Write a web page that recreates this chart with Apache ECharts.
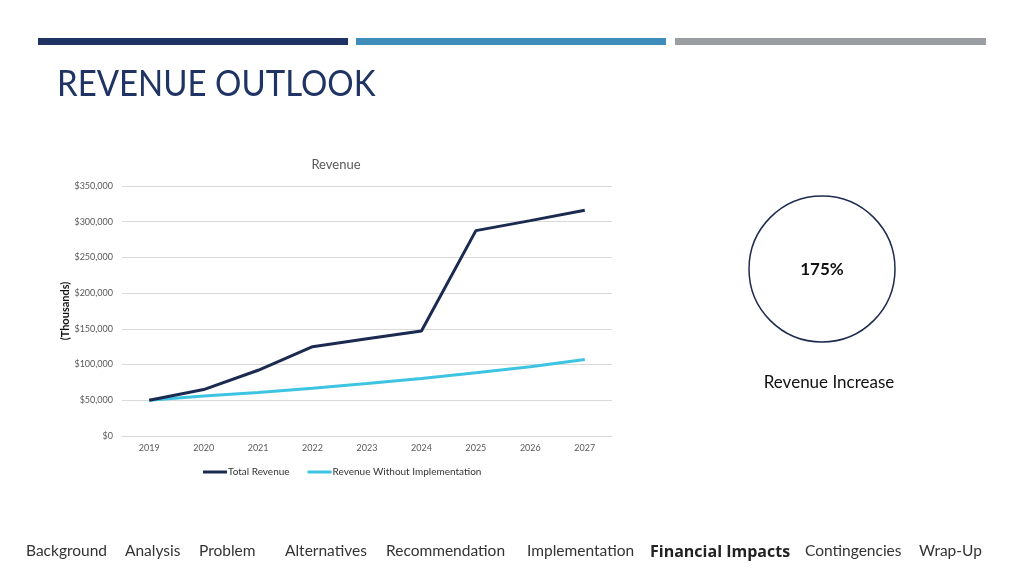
<!DOCTYPE html>
<html><head><meta charset="utf-8">
<script src="https://cdn.jsdelivr.net/npm/echarts@6/dist/echarts.min.js"></script>
<style>html,body{margin:0;padding:0;background:#fff}#c{width:1024px;height:576px}</style>
</head><body><div id="c"></div>
<script>
const years = ['2019','2020','2021','2022','2023','2024','2025','2026','2027'];
const totalRevenue = [50000, 65000, 92000, 125000, 136000, 147000, 287500, 301500, 316000];
const withoutImpl = [50000, 56000, 61000, 67000, 73500, 80500, 88500, 97000, 107000];
const navItems = ['Background','Analysis','Problem','Alternatives','Recommendation','Implementation','Financial Impacts','Contingencies','Wrap-Up'];
const navX = [26,125,199,285,386,527,650,805,919];
const activeNav = 'Financial Impacts';

const font = 'Lato, "Open Sans", sans-serif';
const chart = echarts.init(document.getElementById('c'));
const graphics = [
  {type:'rect', shape:{x:38,y:38,width:310,height:7}, style:{fill:'#1f3464'}},
  {type:'rect', shape:{x:356,y:38,width:310,height:7}, style:{fill:'#3e8cb9'}},
  {type:'rect', shape:{x:675,y:38,width:311,height:7}, style:{fill:'#9a9ea2'}},
  {type:'text', x:57, y:84, scaleX:0.97, scaleY:1.1, style:{text:'REVENUE OUTLOOK', fill:'#1f3464', font:'34px '+font, textVerticalAlign:'middle'}},
  {type:'text', x:336, y:165, style:{text:'Revenue', fill:'#595959', font:'13px '+font, textAlign:'center', textVerticalAlign:'middle'}},
  {type:'circle', shape:{cx:822, cy:269, r:73}, style:{fill:'none', stroke:'#1c2b4f', lineWidth:1.5}},
  {type:'text', x:822, y:270, style:{text:'175%', fill:'#111', font:'bold 17px '+font, textAlign:'center', textVerticalAlign:'middle'}},
  {type:'text', x:829, y:383, style:{text:'Revenue Increase', fill:'#111', font:'17px '+font, textAlign:'center', textVerticalAlign:'middle'}}
];
navItems.forEach((t,i)=>{
  const active = t===activeNav;
  graphics.push({type:'text', x:navX[i], y: active ? 552 : 551, style:{text:t, fill: active?'#222':'#333',
    font: active ? 'bold 16px "Open Sans", sans-serif' : '15.5px '+font, textVerticalAlign:'middle'}});
});

chart.setOption({
  animation:false,
  textStyle:{fontFamily:font},
  grid:{left:122, right:412, top:186, bottom:140},
  legend:{left:198, top:462, itemWidth:24, itemHeight:3, itemGap:18, icon:'rect',
    textStyle:{fontSize:10, color:'#333', fontFamily:font, padding:[0,0,0,-4]},
    data:['Total Revenue','Revenue Without Implementation']},
  xAxis:{type:'category', data:years, boundaryGap:true,
    axisLine:{lineStyle:{color:'#d9d9d9'}}, axisTick:{show:false},
    axisLabel:{color:'#595959', fontSize:9, margin:8, fontFamily:font}},
  yAxis:{type:'value', min:0, max:350000, interval:50000,
    name:'(Thousands)', nameLocation:'middle', nameGap:47, nameRotate:90,
    nameTextStyle:{fontSize:11, fontWeight:'bold', color:'#111', fontFamily:font},
    axisLine:{show:false}, axisTick:{show:false},
    splitLine:{lineStyle:{color:'#d9d9d9'}},
    axisLabel:{color:'#595959', fontSize:9, margin:9, fontFamily:font,
      formatter:v=>'$'+v.toLocaleString('en-US')}},
  series:[
    {name:'Total Revenue', type:'line', data:totalRevenue, symbol:'none', z:3,
      lineStyle:{color:'#1b2a50', width:3}, itemStyle:{color:'#1b2a50'}},
    {name:'Revenue Without Implementation', type:'line', data:withoutImpl, symbol:'none', z:2,
      lineStyle:{color:'#3cc4e2', width:3}, itemStyle:{color:'#3cc4e2'}}
  ],
  graphic:graphics
});
</script></body></html>
